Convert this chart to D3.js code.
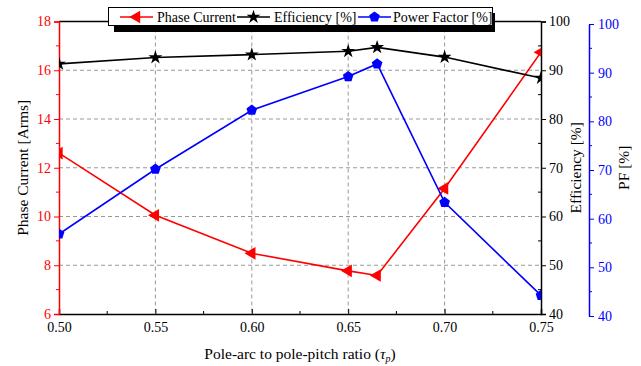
<!DOCTYPE html>
<html>
<head>
<meta charset="utf-8">
<script src="https://cdn.jsdelivr.net/npm/d3@7"></script>
<style>
  body { margin: 0; background: #fff; }
</style>
</head>
<body>
<div id="chart"></div>
<script>
// data
let ratio = [0.50, 0.55, 0.60, 0.65, 0.665, 0.70, 0.75];
let phaseCurrent = [12.6, 10.05, 8.49, 7.77, 7.58, 11.15, 16.74];
let efficiency = [91.3, 92.6, 93.2, 93.9, 94.7, 92.7, 88.4];
let powerFactor = [56.4, 69.7, 81.8, 88.7, 91.3, 62.9, 43.8];
let xTicks = [0.50, 0.55, 0.60, 0.65, 0.70, 0.75];
let leftTicks = [6, 8, 10, 12, 14, 16, 18];
let rightTicks = [40, 50, 60, 70, 80, 90, 100];

let FONT = '"Liberation Serif", "Times New Roman", Times, serif';
let W = 641, H = 366;
let margin = {top: 21.5, left: 59, right: 100, bottom: 52};
let plotR = W - margin.right, plotB = H - margin.bottom;

let svg = d3.select('#chart').append('svg').attr('width', W).attr('height', H);

let x = d3.scaleLinear().domain([0.5, 0.75]).range([margin.left, plotR]);
let yL = d3.scaleLinear().domain([6, 18]).range([plotB, margin.top]);
let yE = d3.scaleLinear().domain([40, 100]).range([plotB, margin.top]);

svg.append('clipPath').attr('id', 'clip').append('rect')
  .attr('x', margin.left).attr('y', margin.top)
  .attr('width', plotR - margin.left).attr('height', plotB - margin.top);

// grid
let grid = svg.append('g').attr('stroke', '#999').attr('stroke-dasharray', '4,3').attr('stroke-width', 1);
xTicks.slice(1, -1).forEach(t => {
  grid.append('line').attr('x1', x(t)).attr('x2', x(t)).attr('y1', margin.top).attr('y2', plotB);
});
leftTicks.slice(1, -1).forEach(t => {
  grid.append('line').attr('x1', margin.left).attr('x2', plotR).attr('y1', yL(t)).attr('y2', yL(t));
});

// x axis
let minorX = d3.range(0, 5).map(i => 0.525 + i * 0.05);
let xAxis = d3.axisBottom(x).tickValues(xTicks).tickFormat(d3.format('.2f')).tickSize(-5).tickPadding(8);
let gx = svg.append('g').attr('transform', 'translate(0,' + plotB + ')').call(xAxis);
gx.selectAll('.tick').filter(d => d == 0.5 || d == 0.75).select('line').remove();
gx.append('g').selectAll('line').data(minorX).enter().append('line')
  .attr('x1', d => x(d)).attr('x2', d => x(d)).attr('y1', 0).attr('y2', -3).attr('stroke', '#000');
gx.select('.domain').attr('stroke-width', 1.5);
gx.selectAll('text').attr('font-size', 14).attr('fill', '#000');

// top border
svg.append('line').attr('x1', margin.left).attr('x2', plotR).attr('y1', margin.top).attr('y2', margin.top)
  .attr('stroke', '#000').attr('stroke-width', 1.5);

// left axis (phase current)
let yLAxis = d3.axisLeft(yL).tickValues(leftTicks).tickSize(5).tickPadding(3);
let gl = svg.append('g').attr('transform', 'translate(' + margin.left + ',0)').call(yLAxis);
gl.selectAll('line, path').attr('stroke', 'red');
gl.select('.domain').attr('stroke-width', 1.5);
gl.selectAll('text').attr('font-size', 14).attr('fill', 'red');
gl.append('g').selectAll('line').data(d3.range(7, 18, 2)).enter().append('line')
  .attr('x1', 0).attr('x2', -3).attr('y1', d => yL(d)).attr('y2', d => yL(d)).attr('stroke', 'red');

// right axis (efficiency)
let yEAxis = d3.axisRight(yE).tickValues(rightTicks).tickSize(5).tickPadding(3);
let ge = svg.append('g').attr('transform', 'translate(' + plotR + ',0)').call(yEAxis);
ge.select('.domain').attr('stroke-width', 1.5);
ge.selectAll('text').attr('font-size', 14).attr('fill', '#000');
ge.append('g').selectAll('line').data(d3.range(45, 100, 10)).enter().append('line')
  .attr('x1', 0).attr('x2', -3).attr('y1', d => yE(d)).attr('y2', d => yE(d)).attr('stroke', '#000');

// PF axis
let yP = d3.scaleLinear().domain([40, 100]).range([plotB + 2, margin.top + 2.5]);
let yPAxis = d3.axisRight(yP).tickValues(rightTicks).tickSize(5).tickPadding(4).tickSizeOuter(0);
let gp = svg.append('g').attr('transform', 'translate(589,0)').call(yPAxis);
gp.selectAll('line, path').attr('stroke', 'blue');
gp.select('.domain').attr('stroke-width', 1.5);
gp.selectAll('text').attr('font-size', 14).attr('fill', 'blue');
gp.append('g').selectAll('line').data(d3.range(45, 100, 10)).enter().append('line')
  .attr('x1', 0).attr('x2', 3).attr('y1', d => yP(d)).attr('y2', d => yP(d)).attr('stroke', 'blue');

// axis titles
svg.append('text').attr('transform', 'translate(28,' + ((margin.top + plotB) / 2) + ') rotate(-90)')
  .attr('text-anchor', 'middle').attr('font-size', 15.5).text('Phase Current [Arms]');
svg.append('text').attr('transform', 'translate(581,' + ((margin.top + plotB) / 2) + ') rotate(-90)')
  .attr('text-anchor', 'middle').attr('font-size', 15.5).text('Efficiency [%]');
svg.append('text').attr('transform', 'translate(629,' + ((margin.top + plotB) / 2) + ') rotate(-90)')
  .attr('text-anchor', 'middle').attr('font-size', 15.5).text('PF [%]');
let xl = svg.append('text').attr('x', (margin.left + plotR) / 2).attr('y', 359)
  .attr('text-anchor', 'middle').attr('font-size', 15.5);
xl.append('tspan').text('Pole-arc to pole-pitch ratio (');
xl.append('tspan').attr('font-style', 'italic').text('τ');
xl.append('tspan').attr('font-size', 10).attr('font-style', 'italic').attr('dy', 3).text('p');
xl.append('tspan').attr('dy', -3).text(')');

// markers
let pentagon = {
  draw: function(ctx, size) {
    let r = Math.sqrt(size / 2.378);
    for (let i = 0; i < 5; i++) {
      let a = -Math.PI / 2 + i * 2 * Math.PI / 5;
      if (i == 0) ctx.moveTo(r * Math.cos(a), r * Math.sin(a));
      else ctx.lineTo(r * Math.cos(a), r * Math.sin(a));
    }
    ctx.closePath();
  }
};
let series = [
  {vals: phaseCurrent, y: yL, color: 'red', sym: d3.symbol(d3.symbolTriangle, 70), rot: -90, name: 'Phase Current'},
  {vals: efficiency, y: yE, color: '#000', sym: d3.symbol(d3.symbolStar, 60), rot: 0, name: 'Efficiency [%]'},
  {vals: powerFactor, y: yE, color: 'blue', sym: d3.symbol(pentagon, 75), rot: 0, name: 'Power Factor [%]'}
];

let plot = svg.append('g').attr('clip-path', 'url(#clip)');
series.forEach(s => {
  let line = d3.line().x((d, i) => x(ratio[i])).y(d => s.y(d));
  plot.append('path').datum(s.vals).attr('d', line).attr('fill', 'none')
    .attr('stroke', s.color).attr('stroke-width', 1.6);
  plot.selectAll(null).data(s.vals).enter().append('path')
    .attr('d', s.sym)
    .attr('transform', (d, i) => 'translate(' + x(ratio[i]) + ',' + s.y(d) + ') rotate(' + s.rot + ')')
    .attr('fill', s.color);
});

// legend
let lg = svg.append('g');
lg.append('rect').attr('x', 114).attr('y', 13).attr('width', 381).attr('height', 19).attr('fill', '#000');
lg.append('rect').attr('x', 108.5).attr('y', 7.5).attr('width', 384).attr('height', 18)
  .attr('fill', '#fff').attr('stroke', '#000').attr('stroke-width', 1);
let legendX = [120, 237, 358];
let textX = [157, 274, 393];
series.forEach((s, i) => {
  lg.append('line').attr('x1', legendX[i]).attr('x2', legendX[i] + 33).attr('y1', 17).attr('y2', 17)
    .attr('stroke', s.color).attr('stroke-width', 1.6);
  lg.append('path').attr('d', s.sym)
    .attr('transform', 'translate(' + (legendX[i] + 16.5) + ',17) rotate(' + s.rot + ')').attr('fill', s.color);
  lg.append('text').attr('x', textX[i]).attr('y', 22).attr('font-size', 14).text(s.name);
});

// serif font everywhere
svg.selectAll('text').style('font-family', FONT);
</script>
</body>
</html>
